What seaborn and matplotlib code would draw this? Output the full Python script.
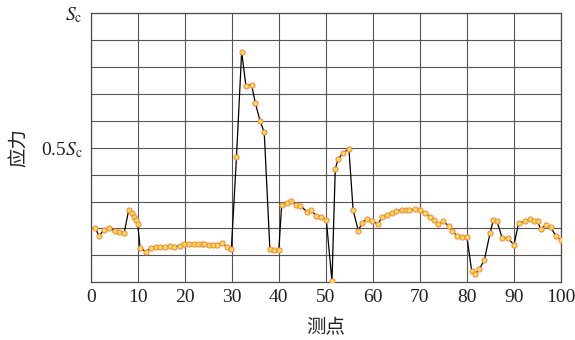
import matplotlib
matplotlib.use("Agg")
import matplotlib.pyplot as plt
import seaborn as sns
import pandas as pd

# measuring points (x) and stress as fraction of Sc (y)
points = [1.0, 1.8, 2.8, 3.8, 5.1, 6.1, 7.1, 8.1, 8.8, 9.3, 9.6, 10.0, 10.5, 11.7, 12.9,
          13.9, 14.8, 15.8, 16.8, 17.8, 19.0, 19.8, 20.9, 21.9, 22.8, 23.6, 24.1, 25.1,
          26.0, 26.9, 27.9, 28.9, 29.9, 31.0, 32.1, 33.0, 34.2, 35.0, 36.0, 36.9, 38.1,
          38.9, 40.0, 40.6, 41.7, 42.5, 43.7, 44.6, 45.9, 46.8, 47.9, 49.0, 50.1, 51.3,
          52.0, 52.6, 53.6, 54.9, 55.8, 56.9, 57.7, 58.8, 59.9, 61.0, 62.0, 62.9, 64.0,
          65.0, 66.1, 67.0, 67.7, 69.0, 70.1, 71.1, 72.1, 73.0, 73.9, 74.9, 76.1, 76.9,
          77.9, 79.0, 80.0, 81.0, 81.7, 82.6, 83.7, 84.9, 85.6, 86.4, 87.5, 88.7, 90.0,
          91.0, 92.3, 93.4, 94.2, 95.0, 95.7, 96.7, 97.8, 98.9, 99.9]
stress = [0.201, 0.172, 0.196, 0.201, 0.192, 0.188, 0.182, 0.270, 0.257, 0.242, 0.231, 0.217,
          0.129, 0.114, 0.127, 0.131, 0.133, 0.131, 0.136, 0.133, 0.136, 0.142, 0.141, 0.141,
          0.141, 0.142, 0.141, 0.140, 0.140, 0.140, 0.145, 0.133, 0.123, 0.466, 0.857, 0.731,
          0.735, 0.667, 0.601, 0.557, 0.123, 0.119, 0.120, 0.287, 0.294, 0.304, 0.287, 0.285,
          0.263, 0.269, 0.248, 0.244, 0.231, 0.004, 0.421, 0.458, 0.480, 0.496, 0.267, 0.192,
          0.222, 0.237, 0.228, 0.217, 0.241, 0.251, 0.259, 0.266, 0.268, 0.269, 0.269, 0.272,
          0.269, 0.257, 0.244, 0.232, 0.217, 0.226, 0.211, 0.191, 0.172, 0.170, 0.168, 0.043,
          0.031, 0.048, 0.083, 0.182, 0.231, 0.226, 0.164, 0.164, 0.139, 0.222, 0.226, 0.236,
          0.229, 0.226, 0.197, 0.213, 0.205, 0.172, 0.158]

x_ticks = [0, 10, 20, 30, 40, 50, 60, 70, 80, 90, 100]
y_ticks = [0.1, 0.2, 0.3, 0.4, 0.5, 0.6, 0.7, 0.8, 0.9, 1.0]
y_labels = {0.5: r"0.5$S_{\rm c}$", 1.0: r"$S_{\rm c}$"}

sns.set_style("white")
plt.rcParams["font.family"] = ["Liberation Serif", "Noto Sans CJK SC"]
plt.rcParams["mathtext.fontset"] = "stix"

df = pd.DataFrame({"测点": points, "应力": stress})

fig = plt.figure(figsize=(5.75, 3.4), dpi=100)
ax = fig.add_axes([0.1577, 0.1697, 0.8180, 0.7913])

sns.lineplot(data=df, x="测点", y="应力", ax=ax, color="black", linewidth=0.9,
             marker="o", markersize=3.7, markerfacecolor="#FFE033",
             markeredgecolor="#F08058", markeredgewidth=0.7, zorder=3)

ax.set_xlim(0, 100)
ax.set_ylim(0, 1.0)
ax.set_xticks(x_ticks)
ax.set_xticklabels([str(t) for t in x_ticks])
ax.set_yticks(y_ticks)
ax.set_yticklabels([y_labels.get(round(t, 1), "") for t in y_ticks])
ax.grid(True, color="#555555", linewidth=0.8)
ax.set_axisbelow(True)
for s in ax.spines.values():
    s.set_color("#4a4a4a")
    s.set_linewidth(0.9)
ax.tick_params(axis="both", length=0, labelsize=14, colors="#222222")
ax.tick_params(axis="x", pad=5)
ax.tick_params(axis="y", pad=6)

ax.set_xlabel("测点", family=["Noto Sans CJK SC"], fontsize=14, color="#222222", labelpad=8)
ax.set_ylabel("应力", family=["Noto Sans CJK SC"], fontsize=14, color="#222222", labelpad=8)

fig.savefig("out.png", dpi=100)
